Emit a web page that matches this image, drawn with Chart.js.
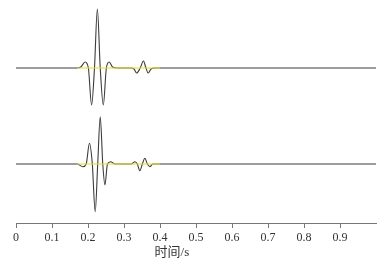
<!DOCTYPE html>
<html>
<head>
<meta charset="utf-8">
<script src="https://cdn.jsdelivr.net/npm/chart.js@4/dist/chart.umd.min.js"></script>
<style>
  html, body { margin: 0; padding: 0; background: #fff; }
  #wrap { width: 383px; height: 261px; position: relative; }
</style>
</head>
<body>
<div id="wrap"><canvas id="myChart"></canvas></div>
<script>
// ---------------------------------------------- data ------------------------------------
// time (s) and amplitude (in pixel-ish units) of the upper trace
const topTime = [0, 0.17, 0.18, 0.192, 0.201, 0.210, 0.218, 0.226, 0.234, 0.2425, 0.251, 0.259, 0.268, 0.28,
    0.32, 0.328, 0.335, 0.345, 0.354, 0.361, 0.367, 0.375, 0.385, 1.0];
const topAmp = [0, 0, 1, 6, 0, -37, 0, 59, 0, -37, 0, 6, 1, 0,
    0, -1, -5, 0, 7, 0, -5, -1, 0, 0];

// lower trace
const bottomTime = [0, 0.17, 0.186, 0.195, 0.204, 0.212, 0.220, 0.227, 0.234, 0.241, 0.247, 0.254, 0.263, 0.275,
    0.32, 0.3306, 0.337, 0.344, 0.351, 0.358, 0.365, 0.372, 0.38, 1.0];
const bottomAmp = [0, 0, -2.7, 0, 20.7, 0, -47.7, 0, 47.3, 0, -21, 0, 2.3, 0,
    0, 2.3, 0, -6.7, 0, 5.7, 0, -2.7, 0, 0];

// yellow residual segment under both traces
const yellowTime = [0.17, 0.40];
const yellowAmp = [0, 0];

const xTicks = [0, 0.1, 0.2, 0.3, 0.4, 0.5, 0.6, 0.7, 0.8, 0.9];
const xTitle = "时间/s";

// vertical placement of the two traces
const topOffset = 155;
const bottomOffset = 59;

function toPoints(ts, vs, off) {
    return ts.map((t, i) => ({ x: t, y: vs[i] + off }));
}

//Global Options
Chart.defaults.font.family = "'Liberation Serif', 'Noto Sans CJK SC', serif";
Chart.defaults.font.size = 12;
Chart.defaults.color = "#333";

const axisTitle = {
    id: "axisTitle",
    afterDraw(chart) {
        const ctx = chart.ctx;
        const xs = chart.scales.x;
        ctx.save();
        ctx.font = "13px 'Liberation Serif', 'Noto Sans CJK SC', serif";
        ctx.fillStyle = "#333";
        ctx.textAlign = "center";
        ctx.textBaseline = "middle";
        ctx.fillText(xTitle, xs.getPixelForValue(0.433), 253);
        ctx.restore();
    },
};

const traceStyle = {
    borderColor: "#3c3c3c",
    borderWidth: 1.1,
    pointRadius: 0,
    cubicInterpolationMode: "monotone",
    fill: false,
};

const data = {
    datasets: [
        Object.assign({ label: "top", data: toPoints(topTime, topAmp, topOffset), order: 2 }, traceStyle),
        Object.assign({ label: "bottom", data: toPoints(bottomTime, bottomAmp, bottomOffset), order: 2 }, traceStyle),
        {
            label: "top residual",
            data: toPoints(yellowTime, yellowAmp, topOffset),
            borderColor: "#e6df1a",
            borderWidth: 1,
            pointRadius: 0,
            order: 1,
        },
        {
            label: "bottom residual",
            data: toPoints(yellowTime, yellowAmp, bottomOffset),
            borderColor: "#e6df1a",
            borderWidth: 1,
            pointRadius: 0,
            order: 1,
        },
    ],
};

const config = {
    type: "line",
    data: data,
    options: {
        responsive: true,
        maintainAspectRatio: false,
        animation: false,
        layout: { padding: { left: 16, right: 7, top: 0, bottom: 0 } },
        scales: {
            x: {
                type: "linear",
                min: 0,
                max: 1.0,
                afterBuildTicks: (scale) => {
                    scale.ticks = xTicks.map((v) => ({ value: v }));
                },
                afterFit: (scale) => {
                    scale.height = 38;
                },
                ticks: {
                    padding: 3,
                    maxRotation: 0,
                    autoSkip: false,
                    callback: (v) => String(Math.round(v * 10) / 10),
                },
                grid: {
                    display: true,
                    drawOnChartArea: false,
                    drawTicks: true,
                    tickLength: 5,
                    color: "#777",
                },
                border: { display: true, color: "#777", width: 1 },
            },
            y: {
                display: false,
                min: 0,
                max: 223,
            },
        },
        plugins: {
            legend: { display: false },
            tooltip: { enabled: false },
        },
    },
    plugins: [axisTitle],
};

//render init block
const myChart = new Chart(document.getElementById("myChart").getContext("2d"), config);
</script>
</body>
</html>
